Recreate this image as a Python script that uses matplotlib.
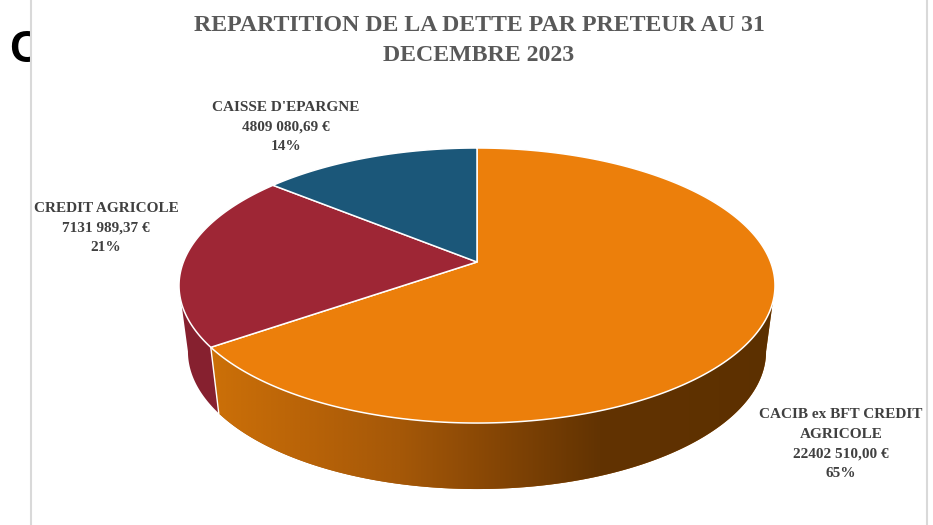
import numpy as np
import matplotlib.pyplot as plt
from matplotlib.patches import Polygon, Rectangle

# data
lenders = ["CACIB ex BFT CREDIT\nAGRICOLE", "CREDIT AGRICOLE", "CAISSE D'EPARGNE"]
amounts = [22402510.00, 7131989.37, 4809080.69]
top_colors = ["#EC7F0B", "#9E2635", "#1B5779"]
side_colors = ["#A85A08", "#86202F", "#123E58"]
title = "REPARTITION DE LA DETTE PAR PRETEUR AU 31\nDECEMBRE 2023"

# pseudo 3D geometry (pixels)
W, H = 933, 525
CX, CY = 477, 262
A, B, K = 293.6, 133.5, 0.171
DEPTH = 66
BOTTOM_SHRINK = 0.97


def rim(theta, drop=0.0):
    s, c = np.sin(theta), np.cos(theta)
    d = 1 + K * c
    scale = BOTTOM_SHRINK if drop else 1.0
    return CX + A * s / d * scale, CY - B * c / d + drop


def fmt_amount(v):
    ent = int(v)
    dec = int(round((v - ent) * 100))
    txt = f"{ent // 1000} {ent % 1000:03d}" if ent >= 1000 else str(ent)
    return f"{txt},{dec:02d} €"


fig = plt.figure(figsize=(W / 100, H / 100), dpi=100)
ax = fig.add_axes([0, 0, 1, 1])
ax.set_axis_off()

total = sum(amounts)
fracs = [a / total for a in amounts]
bounds = np.concatenate([[0], np.cumsum(fracs)]) * 2 * np.pi

# visible front side between the two silhouette angles
th_r = np.arccos(-K)
th_l = 2 * np.pi - th_r

for i in range(len(amounts)):
    a0, a1 = max(bounds[i], th_r), min(bounds[i + 1], th_l)
    if a1 <= a0:
        continue
    t = np.linspace(a0, a1, 200)
    xt, yt = rim(t)
    xb, yb = rim(t[::-1], DEPTH)
    pts = np.column_stack([np.concatenate([xt, xb]), np.concatenate([yt, yb])])
    poly = Polygon(pts, closed=True, facecolor=side_colors[i], edgecolor="none", zorder=2)
    ax.add_patch(poly)
    if i == 0:
        # orange side gets a left-to-right dark gradient
        gx = np.array([180, 210, 300, 400, 500, 600, 780])
        gc = np.array([[205, 113, 8], [204, 112, 8], [186, 100, 8], [165, 88, 8],
                       [132, 69, 5], [98, 51, 2], [92, 48, 0]]) / 255
        xs = np.linspace(180, 780, 400)
        grad = np.stack([np.interp(xs, gx, gc[:, k]) for k in range(3)], axis=-1)[None, :, :]
        im = ax.imshow(grad, extent=(180, 780, 500, 280), aspect="auto", zorder=2.5,
                       interpolation="bilinear")
        im.set_clip_path(poly)
    if bounds[i + 1] < th_l and bounds[i + 1] > th_r:
        x0, y0 = rim(bounds[i + 1])
        x1, y1 = rim(bounds[i + 1], DEPTH)
        ax.plot([x0, x1], [y0, y1], color="white", lw=1.0, zorder=3)

for i in range(len(amounts)):
    t = np.linspace(bounds[i], bounds[i + 1], 300)
    xt, yt = rim(t)
    pts = np.column_stack([np.concatenate([[CX], xt]), np.concatenate([[CY], yt])])
    ax.add_patch(Polygon(pts, closed=True, facecolor=top_colors[i], edgecolor="white",
                         lw=1.1, joinstyle="round", zorder=4))

# labels
serif = "Liberation Serif"
label_pos = [(841, 418), (106, 212), (286, 111)]
for i, name in enumerate(lenders):
    lines = name.split("\n") + [fmt_amount(amounts[i]), f"{fracs[i] * 100:.0f}%"]
    lx, ly = label_pos[i]
    for j, line in enumerate(lines):
        ax.text(lx, ly + j * 19.7, line, ha="center", va="baseline", fontsize=11,
                fontweight="bold", family=serif, color="#404040", zorder=5)

for j, line in enumerate(title.split("\n")):
    ax.text(479, 31 + j * 30, line, ha="center", va="baseline", fontsize=17.2,
            fontweight="bold", family=serif, color="#595959", zorder=5)

# stray letter behind the chart panel, cut by its left border
ax.text(9, 62, "C", ha="left", va="baseline", fontsize=32, fontweight="bold",
        family="Liberation Sans", color="black", zorder=0.5)
ax.add_patch(Rectangle((31, 0), 896, H, facecolor="white", edgecolor="none", zorder=1))

ax.axvline(31, color="#D9D9D9", lw=1.5, zorder=6)
ax.axvline(927, color="#D9D9D9", lw=1.5, zorder=6)

ax.set_xlim(0, W)
ax.set_ylim(H, 0)
fig.savefig("out.png", dpi=100)
